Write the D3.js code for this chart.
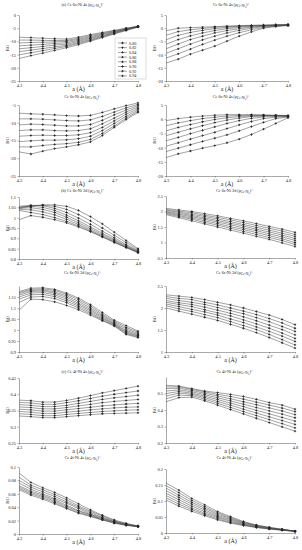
<!DOCTYPE html>
<meta charset="utf-8">
<script src="https://d3js.org/d3.v7.min.js"></script>
<style>
  body { margin: 0; background: #fff; }
  text { font-family: "Liberation Serif", "DejaVu Serif", serif; fill: #222; }
</style>
<div id="chart"></div>
<script>

// x values (lattice constant a) and the eight ratio series
var aValues = [4.3, 4.35, 4.4, 4.45, 4.5, 4.55, 4.6, 4.65, 4.7, 4.75, 4.8];
var aTicks = [4.3, 4.4, 4.5, 4.6, 4.7, 4.8];
var ratios = ["0.80", "0.82", "0.84", "0.86", "0.88", "0.90", "0.92", "0.94"];

// (a) Ce 6s-Ni 4s spin up
var s4sUpA = [
  [-8.4, -8.6, -8.8, -9.0, -9.1, -8.4, -7.4, -6.6, -5.8, -5.0, -4.2],
  [-9.5, -9.5, -9.6, -9.7, -9.6, -8.8, -7.8, -6.9, -6.0, -5.1, -4.3],
  [-10.6, -10.4, -10.3, -10.2, -10.0, -9.2, -8.2, -7.2, -6.2, -5.3, -4.3],
  [-11.7, -11.4, -11.1, -10.8, -10.5, -9.6, -8.6, -7.5, -6.4, -5.4, -4.4],
  [-12.8, -12.4, -11.9, -11.4, -11.0, -10.0, -8.9, -7.8, -6.6, -5.5, -4.4],
  [-13.9, -13.3, -12.7, -12.1, -11.5, -10.4, -9.3, -8.1, -6.8, -5.6, -4.5],
  [-15.1, -14.3, -13.5, -12.7, -11.9, -10.8, -9.6, -8.3, -7.0, -5.7, -4.5],
  [-16.5, -15.4, -14.4, -13.4, -12.4, -11.2, -9.9, -8.6, -7.2, -5.9, -4.6]
];
// Ce 6s-Ni 4s spin down
var s4sDnA = [
  [-7.3, -7.5, -7.6, -7.8, -8.0, -8.1, -7.9, -7.1, -6.1, -5.2, -4.4],
  [-8.9, -8.9, -9.0, -9.2, -9.4, -9.5, -9.2, -8.2, -7.0, -5.8, -4.8],
  [-10.6, -10.4, -10.5, -10.7, -10.9, -10.9, -10.5, -9.3, -7.8, -6.4, -5.2],
  [-12.2, -12.0, -12.0, -12.2, -12.3, -12.2, -11.7, -10.3, -8.7, -7.0, -5.6],
  [-13.8, -13.6, -13.5, -13.6, -13.6, -13.4, -12.8, -11.3, -9.5, -7.6, -6.0],
  [-15.3, -15.1, -14.9, -14.9, -14.8, -14.5, -13.8, -12.2, -10.2, -8.2, -6.4],
  [-16.8, -16.8, -16.4, -16.1, -15.9, -15.5, -14.7, -13.0, -10.9, -8.7, -6.8],
  [-18.2, -18.8, -18.0, -17.3, -16.8, -16.2, -15.4, -13.6, -11.3, -9.1, -7.1]
];
// right column, row 1
var s4sUpB = [
  [-1.0, 0.0, 0.2, 0.4, 0.6, 0.8, 1.0, 1.1, 1.2, 1.3, 1.4],
  [-2.7, -1.3, -0.6, -0.1, 0.3, 0.6, 0.8, 1.0, 1.1, 1.2, 1.3],
  [-4.4, -2.7, -1.6, -0.8, -0.2, 0.3, 0.6, 0.9, 1.0, 1.2, 1.3],
  [-6.1, -4.3, -2.9, -1.8, -0.9, -0.2, 0.3, 0.7, 0.9, 1.1, 1.2],
  [-7.8, -6.0, -4.3, -3.0, -1.8, -0.9, -0.2, 0.4, 0.8, 1.0, 1.2],
  [-9.5, -7.8, -6.0, -4.4, -3.0, -1.8, -0.8, 0.0, 0.6, 0.9, 1.1],
  [-11.3, -9.7, -7.9, -6.1, -4.5, -3.0, -1.7, -0.6, 0.3, 0.8, 1.1],
  [-13.2, -11.7, -9.8, -8.3, -6.8, -4.9, -3.0, -1.4, 0.0, 0.6, 1.0]
];
var s4sDnB = [
  [-0.5, 0.2, 0.7, 1.1, 1.4, 1.6, 1.6, 1.6, 1.5, 1.4, 1.3],
  [-2.3, -1.3, -0.5, 0.2, 0.7, 1.1, 1.3, 1.4, 1.4, 1.3, 1.2],
  [-4.1, -2.9, -1.9, -0.9, -0.1, 0.5, 0.9, 1.2, 1.3, 1.3, 1.2],
  [-5.8, -4.6, -3.4, -2.3, -1.2, -0.3, 0.4, 0.9, 1.1, 1.2, 1.1],
  [-7.6, -6.4, -5.1, -3.9, -2.7, -1.5, -0.5, 0.3, 0.8, 1.0, 1.0],
  [-9.5, -8.3, -7.0, -5.8, -4.6, -3.3, -2.0, -0.8, 0.2, 0.7, 0.9],
  [-11.4, -10.2, -9.0, -7.8, -6.7, -5.5, -4.1, -2.6, -1.1, 0.2, 0.8],
  [-13.5, -12.2, -11.2, -10.2, -9.3, -8.3, -7.0, -5.4, -3.5, -1.5, 0.5]
];
// (b) Ce 6s-Ni 3d
var s3dUpA = [
  [1.045, 1.055, 1.062, 1.062, 1.055, 1.035, 1.005, 0.97, 0.93, 0.89, 0.85],
  [1.05, 1.058, 1.06, 1.055, 1.04, 1.015, 0.985, 0.95, 0.915, 0.88, 0.845],
  [1.055, 1.06, 1.058, 1.045, 1.025, 0.998, 0.968, 0.935, 0.903, 0.87, 0.84],
  [1.05, 1.055, 1.05, 1.035, 1.012, 0.985, 0.955, 0.925, 0.895, 0.865, 0.837],
  [1.045, 1.048, 1.04, 1.025, 1.002, 0.975, 0.947, 0.918, 0.89, 0.861, 0.835],
  [1.04, 1.038, 1.028, 1.013, 0.992, 0.967, 0.94, 0.912, 0.885, 0.858, 0.833],
  [1.035, 1.025, 1.015, 1.0, 0.982, 0.96, 0.935, 0.908, 0.882, 0.856, 0.832],
  [0.99, 1.01, 1.002, 0.99, 0.975, 0.955, 0.932, 0.906, 0.88, 0.855, 0.83]
];
var s3dDnA = [
  [1.175, 1.19, 1.192, 1.185, 1.168, 1.145, 1.115, 1.08, 1.045, 1.02, 0.995],
  [1.17, 1.185, 1.187, 1.18, 1.162, 1.138, 1.108, 1.072, 1.04, 1.012, 0.99],
  [1.165, 1.18, 1.182, 1.173, 1.155, 1.13, 1.1, 1.066, 1.035, 1.005, 0.985],
  [1.158, 1.175, 1.177, 1.167, 1.148, 1.122, 1.093, 1.06, 1.03, 0.998, 0.98],
  [1.15, 1.168, 1.17, 1.16, 1.14, 1.115, 1.087, 1.055, 1.027, 0.993, 0.975],
  [1.14, 1.16, 1.162, 1.152, 1.132, 1.108, 1.08, 1.05, 1.024, 0.988, 0.972],
  [1.125, 1.15, 1.152, 1.143, 1.124, 1.1, 1.074, 1.045, 1.021, 0.984, 0.968],
  [1.09, 1.14, 1.138, 1.128, 1.112, 1.092, 1.068, 1.042, 1.018, 0.98, 0.965]
];
var s3dUpB = [
  [2.10, 2.05, 2.00, 1.93, 1.86, 1.78, 1.70, 1.61, 1.52, 1.43, 1.33],
  [2.07, 2.01, 1.96, 1.88, 1.81, 1.73, 1.64, 1.55, 1.46, 1.37, 1.26],
  [2.04, 1.98, 1.91, 1.84, 1.76, 1.67, 1.58, 1.49, 1.40, 1.30, 1.20],
  [2.01, 1.94, 1.87, 1.79, 1.71, 1.62, 1.53, 1.43, 1.34, 1.24, 1.13],
  [1.98, 1.91, 1.83, 1.75, 1.66, 1.57, 1.47, 1.38, 1.28, 1.18, 1.07],
  [1.96, 1.87, 1.79, 1.70, 1.61, 1.51, 1.42, 1.32, 1.22, 1.12, 1.00],
  [1.93, 1.84, 1.75, 1.65, 1.56, 1.46, 1.36, 1.26, 1.16, 1.06, 0.94],
  [1.90, 1.80, 1.70, 1.60, 1.50, 1.40, 1.30, 1.20, 1.10, 0.99, 0.87]
];
var s3dDnB = [
  [2.30, 2.27, 2.24, 2.19, 2.13, 2.07, 2.00, 1.92, 1.84, 1.74, 1.62],
  [2.26, 2.22, 2.19, 2.13, 2.07, 2.00, 1.93, 1.85, 1.76, 1.66, 1.54],
  [2.22, 2.17, 2.13, 2.08, 2.01, 1.94, 1.87, 1.78, 1.69, 1.58, 1.47],
  [2.17, 2.12, 2.08, 2.02, 1.95, 1.88, 1.80, 1.71, 1.61, 1.51, 1.39],
  [2.13, 2.08, 2.03, 1.96, 1.89, 1.82, 1.73, 1.64, 1.54, 1.43, 1.31],
  [2.09, 2.03, 1.97, 1.91, 1.84, 1.75, 1.67, 1.57, 1.47, 1.36, 1.24],
  [2.05, 1.98, 1.92, 1.85, 1.78, 1.69, 1.60, 1.51, 1.40, 1.28, 1.16],
  [2.00, 1.93, 1.86, 1.79, 1.72, 1.63, 1.54, 1.44, 1.33, 1.21, 1.09]
];
// (c) Ce 4f-Ni 4s
var f4sUpA = [
  [0.382, 0.380, 0.376, 0.376, 0.381, 0.388, 0.396, 0.404, 0.411, 0.418, 0.425],
  [0.375, 0.373, 0.369, 0.369, 0.374, 0.38, 0.387, 0.394, 0.4, 0.405, 0.41],
  [0.368, 0.366, 0.362, 0.362, 0.366, 0.372, 0.378, 0.384, 0.389, 0.393, 0.397],
  [0.361, 0.359, 0.355, 0.355, 0.359, 0.364, 0.369, 0.374, 0.378, 0.381, 0.384],
  [0.354, 0.352, 0.348, 0.348, 0.352, 0.356, 0.36, 0.364, 0.367, 0.37, 0.372],
  [0.347, 0.345, 0.341, 0.341, 0.345, 0.348, 0.352, 0.355, 0.358, 0.36, 0.361],
  [0.340, 0.338, 0.334, 0.334, 0.338, 0.341, 0.344, 0.347, 0.349, 0.351, 0.352],
  [0.333, 0.331, 0.328, 0.328, 0.331, 0.334, 0.337, 0.34, 0.341, 0.342, 0.343]
];
var f4sDnA = [
  [0.091, 0.077, 0.069, 0.062, 0.054, 0.045, 0.036, 0.028, 0.021, 0.016, 0.012],
  [0.085, 0.073, 0.066, 0.059, 0.051, 0.042, 0.034, 0.027, 0.02, 0.015, 0.012],
  [0.080, 0.07, 0.063, 0.056, 0.048, 0.04, 0.032, 0.025, 0.019, 0.015, 0.011],
  [0.076, 0.067, 0.06, 0.053, 0.046, 0.038, 0.03, 0.024, 0.018, 0.014, 0.011],
  [0.072, 0.064, 0.058, 0.051, 0.043, 0.035, 0.029, 0.023, 0.018, 0.014, 0.011],
  [0.07, 0.062, 0.056, 0.049, 0.041, 0.034, 0.028, 0.022, 0.017, 0.014, 0.011],
  [0.068, 0.06, 0.054, 0.047, 0.039, 0.032, 0.027, 0.021, 0.017, 0.013, 0.011],
  [0.066, 0.058, 0.052, 0.045, 0.038, 0.031, 0.026, 0.021, 0.016, 0.013, 0.011]
];
var f4sUpB = [
  [0.550, 0.545, 0.530, 0.515, 0.505, 0.495, 0.482, 0.465, 0.445, 0.43, 0.405],
  [0.540, 0.540, 0.525, 0.510, 0.495, 0.482, 0.466, 0.448, 0.43, 0.412, 0.39],
  [0.530, 0.532, 0.518, 0.502, 0.485, 0.468, 0.45, 0.432, 0.413, 0.394, 0.372],
  [0.515, 0.522, 0.510, 0.493, 0.474, 0.455, 0.435, 0.415, 0.395, 0.375, 0.353],
  [0.500, 0.512, 0.502, 0.484, 0.463, 0.442, 0.42, 0.398, 0.377, 0.355, 0.333],
  [0.485, 0.502, 0.495, 0.475, 0.452, 0.429, 0.405, 0.382, 0.359, 0.336, 0.313],
  [0.468, 0.49, 0.487, 0.466, 0.441, 0.416, 0.39, 0.366, 0.342, 0.317, 0.292],
  [0.450, 0.475, 0.478, 0.456, 0.43, 0.403, 0.376, 0.35, 0.324, 0.298, 0.272]
];
var f4sDnB = [
  [0.156, 0.134, 0.108, 0.088, 0.067, 0.051, 0.036, 0.025, 0.018, 0.012, 0.006],
  [0.148, 0.126, 0.102, 0.082, 0.063, 0.048, 0.034, 0.024, 0.017, 0.011, 0.006],
  [0.14, 0.118, 0.096, 0.077, 0.059, 0.045, 0.032, 0.023, 0.016, 0.011, 0.006],
  [0.132, 0.111, 0.09, 0.072, 0.055, 0.042, 0.03, 0.022, 0.015, 0.01, 0.006],
  [0.124, 0.104, 0.084, 0.067, 0.051, 0.039, 0.028, 0.02, 0.014, 0.01, 0.006],
  [0.117, 0.097, 0.078, 0.062, 0.048, 0.036, 0.026, 0.019, 0.014, 0.009, 0.005],
  [0.11, 0.09, 0.073, 0.058, 0.044, 0.033, 0.025, 0.018, 0.013, 0.009, 0.005],
  [0.103, 0.084, 0.068, 0.054, 0.041, 0.031, 0.023, 0.017, 0.012, 0.009, 0.005]
];

// panel layout: pixel box, y domain, y ticks, title parts
var panels = [
  {x0: 19, x1: 138, y0: 15, y1: 81, dom: [-25, 0], ticks: [0, -5, -10, -15, -20, -25], data: s4sUpA,
   pre: "(a) Ce 6s-Ni 4s (", arrow: "\u2191", ty: 6, legend: true},
  {x0: 19, x1: 138, y0: 105, y1: 176, dom: [-25, -5], ticks: [-5, -10, -15, -20, -25], data: s4sDnA,
   pre: "Ce 6s-Ni 4s (", arrow: "\u2193", ty: 98},
  {x0: 166, x1: 288, y0: 15, y1: 81, dom: [-20, 5], ticks: [5, 0, -5, -10, -15, -20], data: s4sUpB,
   pre: "Ce 6s-Ni 4s (", arrow: "\u2191", ty: 6},
  {x0: 166, x1: 288, y0: 105, y1: 176, dom: [-20, 5], ticks: [5, 0, -5, -10, -15, -20], data: s4sDnB,
   pre: "Ce 6s-Ni 4s (", arrow: "\u2193", ty: 98},
  {x0: 19, x1: 138, y0: 197, y1: 259, dom: [0.8, 1.1], ticks: [0.8, 0.85, 0.9, 0.95, 1, 1.05, 1.1], data: s3dUpA,
   pre: "(b) Ce 6s-Ni 3d (", arrow: "\u2191", ty: 192},
  {x0: 19, x1: 138, y0: 286, y1: 352, dom: [0.9, 1.2], ticks: [0.9, 0.95, 1, 1.05, 1.1, 1.15], data: s3dDnA,
   pre: "Ce 6s-Ni 3d (", arrow: "\u2193", ty: 274},
  {x0: 166, x1: 295, y0: 196, y1: 258, dom: [0.5, 2.5], ticks: [0.5, 1, 1.5, 2, 2.5], data: s3dUpB,
   pre: "Ce 6s-Ni 3d (", arrow: "\u2191", ty: 192},
  {x0: 166, x1: 295, y0: 286, y1: 352, dom: [1, 2.5], ticks: [1, 1.5, 2, 2.5], data: s3dDnB,
   pre: "Ce 6s-Ni 3d (", arrow: "\u2193", ty: 274},
  {x0: 19, x1: 138, y0: 378, y1: 443, dom: [0.25, 0.45], ticks: [0.25, 0.3, 0.35, 0.4, 0.45], data: f4sUpA,
   pre: "(c) Ce 4f-Ni 4s (", arrow: "\u2191", ty: 373},
  {x0: 19, x1: 138, y0: 467, y1: 534, dom: [0, 0.1], ticks: [0, 0.02, 0.04, 0.06, 0.08, 0.1], data: f4sDnA,
   pre: "Ce 4f-Ni 4s (", arrow: "\u2193", ty: 459},
  {x0: 166, x1: 295, y0: 377, y1: 443, dom: [0.2, 0.6], ticks: [0.2, 0.3, 0.4, 0.5], data: f4sUpB,
   pre: "Ce 4f-Ni 4s (", arrow: "\u2191", ty: 373},
  {x0: 166, x1: 295, y0: 469, y1: 533, dom: [0, 0.2], ticks: [0, 0.05, 0.1, 0.15, 0.2], data: f4sDnB,
   pre: "Ce 4f-Ni 4s (", arrow: "\u2193", ty: 459}
];

var svg = d3.select("#chart").append("svg")
    .attr("width", 302)
    .attr("height", 550);

var cross = d3.symbol().type(d3.symbolCross).size(3);

panels.forEach(function(p) {
  var g = svg.append("g");
  var x = d3.scaleLinear().domain([4.3, 4.8]).range([p.x0, p.x1]);
  var y = d3.scaleLinear().domain(p.dom).range([p.y1, p.y0]);

  var xa = g.append("g")
      .attr("transform", "translate(0," + p.y1 + ")")
      .call(d3.axisBottom(x).tickValues(aTicks).tickSize(1.5).tickSizeOuter(0).tickPadding(1)
        .tickFormat(function(d) { return String(d); }));
  var ya = g.append("g")
      .attr("transform", "translate(" + p.x0 + ",0)")
      .call(d3.axisLeft(y).tickValues(p.ticks).tickSize(1.5).tickSizeOuter(0).tickPadding(1.5)
        .tickFormat(function(d) { return String(d); }));
  [xa, ya].forEach(function(a) {
    a.attr("font-family", null).attr("font-size", null);
    a.selectAll("text").style("font-size", "4.4px").attr("fill", "#333");
    a.selectAll("path, line").attr("stroke", "#555").attr("stroke-width", 0.5);
  });

  var line = d3.line()
      .x(function(d, i) { return x(aValues[i]); })
      .y(function(d) { return y(d); });

  p.data.forEach(function(s) {
    g.append("path")
        .attr("d", line(s))
        .attr("fill", "none")
        .attr("stroke", "#444")
        .attr("stroke-width", 0.5);
    g.selectAll(null)
        .data(s.slice(1))
      .enter().append("path")
        .attr("d", cross)
        .attr("transform", function(d, i) { return "translate(" + x(aValues[i + 1]) + "," + y(d) + ")"; })
        .attr("fill", "#222");
  });

  // title with subscripts
  var cx = (p.x0 + p.x1) / 2 + 4;
  var t = g.append("text")
      .attr("x", cx)
      .attr("y", p.ty)
      .attr("text-anchor", "middle")
      .style("font-size", "4.2px");
  t.append("tspan").text(p.pre + "\u03c1");
  t.append("tspan").attr("dy", 1.2).style("font-size", "3.2px").text("Ce-Ni");
  t.append("tspan").attr("dy", 0.8).style("font-size", "2.4px").text("n");
  t.append("tspan").attr("dy", -2).text(")");
  t.append("tspan").attr("dy", -0.8).style("font-size", "3.4px").text(p.arrow);

  // axis labels
  g.append("text")
      .attr("x", (p.x0 + p.x1) / 2)
      .attr("y", p.y1 + 9.5)
      .attr("text-anchor", "middle")
      .style("font-size", "6px")
      .text("a (\u00c5)");
  g.append("text")
      .attr("transform", "translate(" + (p.x0 - 10) + "," + ((p.y0 + p.y1) / 2) + ") rotate(-90)")
      .attr("text-anchor", "middle")
      .style("font-size", "4.6px")
      .text("BO");

  if (p.legend) {
    var lg = g.append("g").attr("transform", "translate(115,38)");
    lg.append("rect")
        .attr("width", 31).attr("height", 41)
        .attr("fill", "#fff").attr("stroke", "#aaa").attr("stroke-width", 0.4);
    ratios.forEach(function(r, i) {
      var yy = 5 + i * 4.7;
      lg.append("line")
          .attr("x1", 3).attr("x2", 12).attr("y1", yy).attr("y2", yy)
          .attr("stroke", "#444").attr("stroke-width", 0.5);
      lg.append("path").attr("d", cross).attr("transform", "translate(7.5," + yy + ")").attr("fill", "#222");
      lg.append("text")
          .attr("x", 14).attr("y", yy + 1.5)
          .style("font-size", "4.2px")
          .text(r);
    });
  }
});

</script>
